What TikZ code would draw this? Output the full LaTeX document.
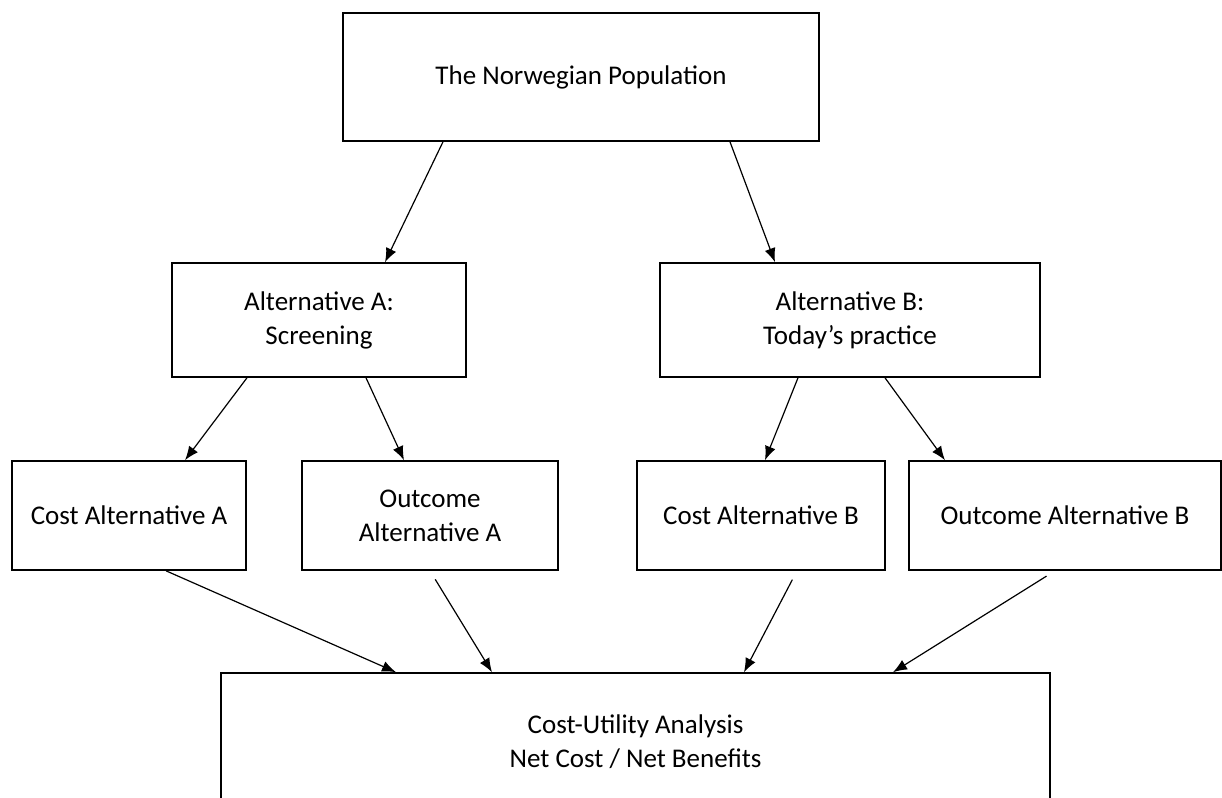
\documentclass[tikz,border=0pt]{standalone}
\usepackage{fontspec}
\setmainfont{Carlito}
\usetikzlibrary{arrows.meta}
\tikzset{
  box/.style={draw, line width=0.8pt, align=center, inner sep=0pt,
    font=\fontsize{13.5}{17}\selectfont},
  flow/.style={-{Latex[length=7pt,width=5.5pt]}, line width=0.6pt}
}

\begin{document}
\begin{tikzpicture}[x=0.5pt,y=-0.5pt]
\useasboundingbox (0,0) rectangle (1222,798);
\clip (0,0) rectangle (1222,798);
\fill[white] (0,0) rectangle (1222,798);
% population and the two alternatives
  \node[box, minimum width=238pt, minimum height=64pt] (pop) at (581,77) {The Norwegian Population};
  \node[box, minimum width=147pt, minimum height=57pt] (altA) at (319,320) {Alternative A:\\Screening};
  \node[box, minimum width=190pt, minimum height=57pt] (altB) at (850,320) {Alternative B:\\Today's practice};
% costs and outcomes
  \node[box, minimum width=117pt, minimum height=54.5pt] (costA) at (129,515.5) {Cost Alternative A};
  \node[box, minimum width=128pt, minimum height=54.5pt] (outA) at (430,515.5) {Outcome\\Alternative A};
  \node[box, minimum width=124pt, minimum height=54.5pt] (costB) at (761,515.5) {Cost Alternative B};
  \node[box, minimum width=156pt, minimum height=54.5pt] (outB) at (1065,515.5) {Outcome Alternative B};
% analysis
  \node[box, minimum width=414.5pt, minimum height=69pt] (cua) at (635.5,742) {Cost-Utility Analysis\\Net Cost / Net Benefits};
% arrows
  \draw[flow] ([xshift=-69pt]pop.south) -- ([xshift=33pt]altA.north);
  \draw[flow] ([xshift=74.5pt]pop.south) -- ([xshift=-37.5pt]altB.north);
  \draw[flow] ([xshift=-36pt]altA.south) -- ([xshift=28pt]costA.north);
  \draw[flow] ([xshift=23.5pt]altA.south) -- ([xshift=-13pt]outA.north);
  \draw[flow] ([xshift=-26pt]altB.south) -- ([xshift=2pt]costB.north);
  \draw[flow] ([xshift=17.5pt]altB.south) -- ([xshift=-60pt]outB.north);
  \draw[flow] ([xshift=18.5pt]costA.south) -- ([xshift=-119.75pt]cua.north);
  \draw[flow, shorten <=5pt] (outA.south) -- ([xshift=-71.75pt]cua.north);
  \draw[flow, shorten <=5pt] ([xshift=18pt]costB.south) -- ([xshift=54.25pt]cua.north);
  \draw[flow, shorten <=5pt] ([xshift=-5pt]outB.south) -- ([xshift=128.75pt]cua.north);
\end{tikzpicture}
\end{document}
